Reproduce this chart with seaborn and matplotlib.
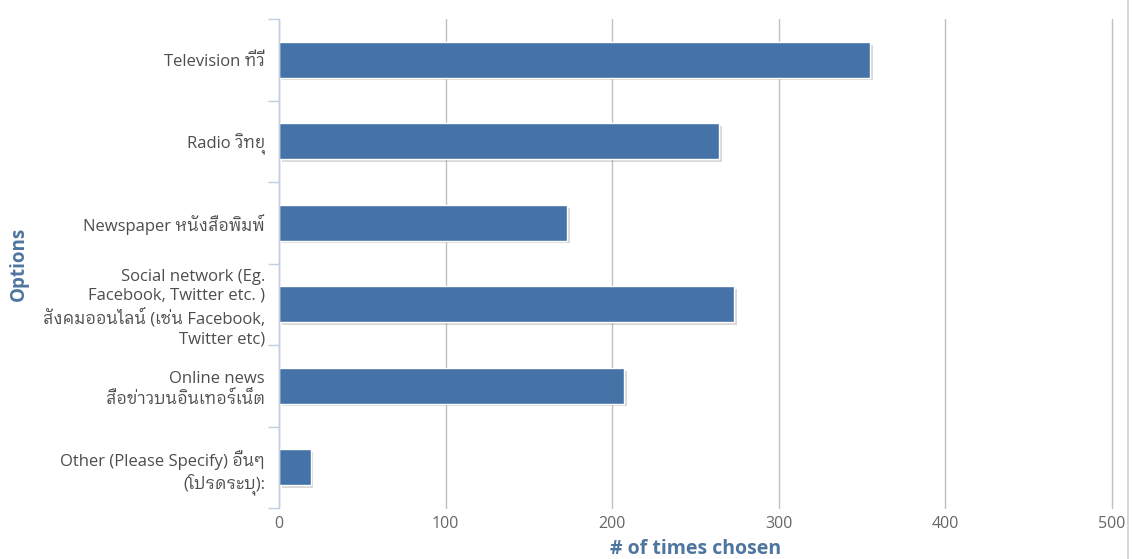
import matplotlib
matplotlib.use("Agg")
import matplotlib.pyplot as plt
import matplotlib.patheffects as pe
from matplotlib import font_manager
from matplotlib.lines import Line2D
import seaborn as sns
import pandas as pd

# ---- data ----
categories = [
    "Television ทีวี",
    "Radio วิทยุ",
    "Newspaper หนังสือพิมพ์",
    "Social network (Eg.\nFacebook, Twitter etc. )\nสังคมออนไลน์ (เช่น Facebook,\nTwitter etc)",
    "Online news\nสื่อข่าวบนอินเทอร์เน็ต",
    "Other (Please Specify) อื่นๆ\n(โปรดระบุ):",
]
times_chosen = [355, 264, 173, 273, 207, 19]
x_ticks = [0, 100, 200, 300, 400, 500]
x_title = "# of times chosen"
y_title = "Options"

# ---- find a font with Thai glyphs ----
thai_family = None
try:
    from fontTools.ttLib import TTFont
    cands = []
    for f in font_manager.fontManager.ttflist:
        try:
            tt = TTFont(f.fname, fontNumber=0, lazy=True)
            cmap = tt.getBestCmap()
            if cmap and 0x0E17 in cmap and 0x0E2D in cmap:
                cands.append(f.name)
        except Exception:
            pass
    cands = sorted(set(cands), key=lambda n: (0 if "Looped" in n else (1 if "Thai" in n else 2), n))
    if cands:
        thai_family = cands[0]
except Exception:
    pass

sns.set_theme(style="white")
families = ["Open Sans"] + ([thai_family] if thai_family else []) + ["DejaVu Sans"]
plt.rcParams["font.family"] = families

df = pd.DataFrame({"option": categories, "count": times_chosen})

fig = plt.figure(figsize=(11.33, 5.59), dpi=100)
ax = fig.add_axes([279 / 1133, 1 - 508 / 559, (1112 - 279) / 1133, (508 - 19) / 559])

sns.barplot(data=df, x="count", y="option", orient="h", color="#4572A7",
            saturation=1, width=0.44, edgecolor="white", linewidth=1, ax=ax, zorder=3)

for p in ax.patches:
    p.set_path_effects([pe.SimplePatchShadow(offset=(2, -2), shadow_rgbFace="#808080", alpha=0.3),
                        pe.Normal()])

ax.set_xlim(0, 500)
ax.set_ylim(len(categories) - 0.5, -0.5)
ax.set_xticks(x_ticks)
ax.set_xticklabels([str(t) for t in x_ticks])
ax.xaxis.grid(True, color="#C0C0C0", linewidth=1)
ax.yaxis.grid(False)
ax.set_axisbelow(True)
for gl in ax.get_xgridlines():
    gl.set_clip_on(False)

for s in ["top", "right", "bottom"]:
    ax.spines[s].set_visible(False)
ax.spines["left"].set_color("#C0D0E0")
ax.spines["left"].set_linewidth(1)
ax.spines["left"].set_zorder(4)

ax.tick_params(axis="x", length=0, pad=6, labelsize=11.5, labelcolor="#666666")
ax.tick_params(axis="y", which="major", left=False, length=0, pad=10, labelsize=12, labelcolor="#4D4D4D")
ax.set_yticks([i - 0.5 for i in range(len(categories) + 1)], minor=True)
ax.tick_params(axis="y", which="minor", left=True, length=8, color="#C0D0E0", width=1)
for lbl in ax.get_yticklabels():
    lbl.set_linespacing(1.28)

ax.set_xlabel(x_title, fontsize=14, fontweight="bold", color="#4D759E", labelpad=5)
ax.set_ylabel(y_title, fontsize=13.5, fontweight="bold", color="#4D759E")
ax.yaxis.set_label_coords(-0.300, 0.5, transform=ax.transAxes)

fig.add_artist(Line2D([1128 / 1133, 1128 / 1133], [0, 1], transform=fig.transFigure,
                      color="#D0D0D0", linewidth=1.2))

fig.savefig("out.png", dpi=100)
